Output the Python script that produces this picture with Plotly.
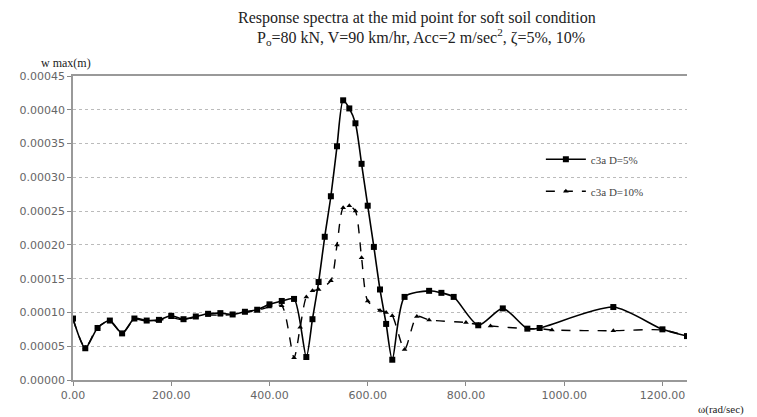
import plotly.graph_objects as go

# omega (rad/sec) and w max (m)
x_d5 = [0, 25, 50, 75, 100, 125, 150, 175, 200, 225, 250, 275, 300, 325, 350, 375, 400, 425, 450,
        475, 487.5, 500, 512.5, 525, 537.5, 550, 562.5, 575, 587.5, 600, 612.5, 625, 637.5, 650,
        675, 725, 750, 775, 825, 875, 925, 950, 1100, 1200, 1250]
y_d5 = [9.1e-5, 4.7e-5, 7.7e-5, 8.8e-5, 6.9e-5, 9.1e-5, 8.8e-5, 8.9e-5, 9.5e-5, 9.0e-5, 9.4e-5, 9.8e-5,
        9.9e-5, 9.7e-5, 1.01e-4, 1.04e-4, 1.12e-4, 1.17e-4, 1.20e-4,
        3.4e-5, 9.0e-5, 1.45e-4, 2.12e-4, 2.72e-4, 3.46e-4, 4.14e-4, 4.02e-4, 3.80e-4, 3.20e-4, 2.58e-4,
        1.97e-4, 1.34e-4, 8.3e-5, 3.0e-5,
        1.23e-4, 1.32e-4, 1.29e-4, 1.23e-4, 8.1e-5, 1.06e-4, 7.6e-5, 7.7e-5, 1.08e-4, 7.5e-5, 6.5e-5]

x_d10 = [0, 25, 50, 75, 100, 125, 150, 175, 200, 225, 250, 275, 300, 325, 350, 375, 400, 425, 450,
         462.5, 475, 487.5, 500, 525, 537.5, 550, 562.5, 575, 587.5, 600, 625, 637.5, 650, 675, 700,
         725, 800, 825, 850, 925, 950, 975, 1100, 1200, 1250]
y_d10 = [9.0e-5, 4.8e-5, 7.8e-5, 8.7e-5, 6.9e-5, 9.0e-5, 8.7e-5, 8.8e-5, 9.2e-5, 8.9e-5, 9.3e-5, 9.6e-5,
         9.6e-5, 9.7e-5, 1.00e-4, 1.03e-4, 1.08e-4, 1.10e-4, 3.3e-5,
         7.8e-5, 1.23e-4, 1.32e-4, 1.34e-4, 1.47e-4, 2.00e-4, 2.55e-4, 2.58e-4, 2.50e-4, 1.81e-4, 1.17e-4,
         1.03e-4, 1.00e-4, 9.5e-5, 4.5e-5, 9.4e-5,
         8.9e-5, 8.5e-5, 8.2e-5, 8.0e-5, 7.6e-5, 7.6e-5, 7.4e-5, 7.3e-5, 7.4e-5, 6.5e-5]

name_d5 = "c3a D=5%"
name_d10 = "c3a D=10%"
title_1 = "Response spectra at the mid point for soft soil condition"
title_2 = "P<sub>o</sub>=80 kN, V=90 km/hr, Acc=2 m/sec<sup>2</sup>, ζ=5%, 10%"
y_title = "w max(m)"
x_title = "ω(rad/sec)"

serif = "Liberation Serif, Times New Roman, serif"
sans = "DejaVu Sans, Verdana, sans-serif"

# figure sits 8px inside the page (body margin)
W, H = 749, 409
L, R, T, B = 61, 70, 68, 37
plot_w = W - L - R
plot_h = H - T - B


def px_to_paper(px, py):
    return (px - L) / plot_w, (H - B - py) / plot_h


fig = go.Figure()
fig.add_trace(go.Scatter(
    x=x_d5, y=y_d5, name=name_d5, legendgroup="a", mode="lines+markers",
    line=dict(color="black", width=1.6, shape="spline", smoothing=0.7),
    marker=dict(symbol="square", size=6, color="black"),
))
fig.add_trace(go.Scatter(
    x=x_d10, y=y_d10, name=name_d10, legendgroup="b", mode="lines+markers",
    line=dict(color="black", width=1.4, dash="dash", shape="spline", smoothing=0.7),
    marker=dict(symbol="triangle-up", size=5, color="black"),
))

anns = []
for txt, px, py in [(title_1, 407, 10), (title_2, 411, 29)]:
    xp, yp = px_to_paper(px, py)
    anns.append(dict(text=txt, x=xp, y=yp, xref="paper", yref="paper", showarrow=False,
                     xanchor="center", yanchor="middle",
                     font=dict(family=serif, size=16, color="#222")))
xp, yp = px_to_paper(54, 55)
anns.append(dict(text=y_title, x=xp, y=yp, xref="paper", yref="paper", showarrow=False,
                 xanchor="center", yanchor="middle", font=dict(family=serif, size=12, color="#222")))
xp, yp = px_to_paper(713, 401)
anns.append(dict(text=x_title, x=xp, y=yp, xref="paper", yref="paper", showarrow=False,
                 xanchor="center", yanchor="middle", font=dict(family=serif, size=11, color="#222")))

fig.update_layout(
    width=W, height=H,
    margin=dict(l=L, r=R, t=T, b=B),
    paper_bgcolor="white", plot_bgcolor="white",
    showlegend=True,
    legend=dict(x=0.762, y=0.774, xanchor="left", yanchor="top",
                bgcolor="rgba(0,0,0,0)", font=dict(family=serif, size=11, color="#444"),
                tracegroupgap=13, itemwidth=40),
    annotations=anns,
)

fig.update_xaxes(range=[0, 1250], dtick=200, tick0=0, tickformat=".2f",
                 showgrid=False, zeroline=False, showline=True, linecolor="#999", linewidth=1.5,
                 mirror=True, ticks="outside", ticklen=4, tickcolor="#888",
                 tickfont=dict(family=sans, size=11, color="#666"))
fig.update_yaxes(range=[0, 0.00045], dtick=0.00005, tick0=0, tickformat=".5f",
                 showgrid=True, gridcolor="#bbb", griddash="dot", gridwidth=1,
                 zeroline=False, showline=True, linecolor="#999", linewidth=1.5,
                 ticks="outside", ticklen=4, tickcolor="#888",
                 tickfont=dict(family=sans, size=11, color="#666"))

fig.write_html("out.html")
